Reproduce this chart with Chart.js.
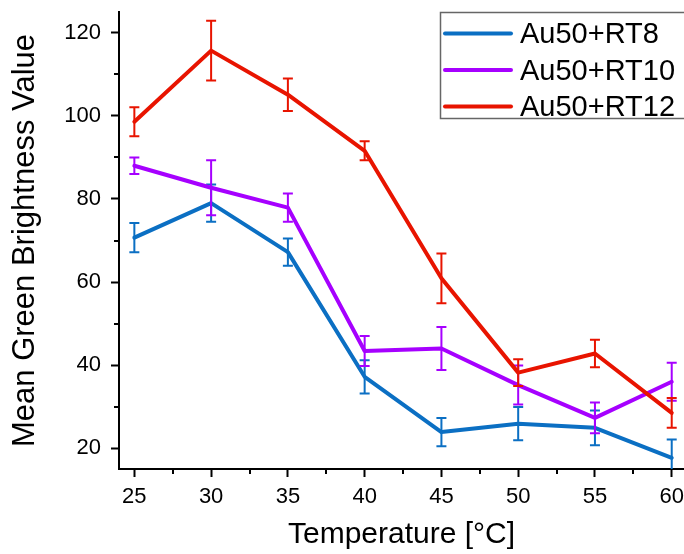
<!DOCTYPE html>
<html>
<head>
<meta charset="utf-8">
<script src="https://cdn.jsdelivr.net/npm/chart.js@4.4.1/dist/chart.umd.min.js"></script>
<style>
  html, body { margin: 0; padding: 0; background: #fff; overflow: hidden; }
  #wrap { width: 684px; height: 554px; position: relative; }
</style>
</head>
<body>
<div id="wrap"><canvas id="chart"></canvas></div>
<script>
// temperatures and mean green brightness (+/- error) per sample
var temps = [25, 30, 35, 40, 45, 50, 55, 60];
var rt8 = [70.7, 79.0, 67.2, 37.2, 23.9, 25.9, 24.9, 17.7];
var rt8Err = [3.5, 4.5, 3.3, 4.0, 3.4, 4.0, 4.2, 4.4];
var rt10 = [88.0, 82.7, 77.9, 43.4, 44.0, 35.2, 27.3, 36.0];
var rt10Err = [2.0, 6.6, 3.4, 3.6, 5.2, 4.7, 3.7, 4.6];
var rt12 = [98.6, 115.7, 105.1, 91.6, 60.9, 38.2, 42.8, 28.5];
var rt12Err = [3.5, 7.2, 3.9, 2.3, 6.0, 3.2, 3.3, 3.6];

var xTicks = [25, 30, 35, 40, 45, 50, 55, 60];
var xMinor = [27.5, 32.5, 37.5, 42.5, 47.5, 52.5, 57.5];
var yTicks = [20, 40, 60, 80, 100, 120];
var yMinor = [30, 50, 70, 90, 110];

var FONT = "'Liberation Sans', Arial, sans-serif";

function pts(ys) {
    return temps.map(function (t, i) { return { x: t, y: ys[i] }; });
}

function series(label, ys, errs, color, order) {
    return {
        label: label,
        data: pts(ys),
        errors: errs,
        borderColor: color,
        backgroundColor: color,
        borderWidth: 4,
        borderJoinStyle: 'round',
        borderCapStyle: 'round',
        pointRadius: 0,
        tension: 0,
        showLine: true,
        order: order
    };
}

// vertical error bars with caps, drawn right after each line
var errorBars = {
    id: 'errorBars',
    afterDatasetDraw: function (chart, args) {
        var ds = chart.data.datasets[args.index];
        var xs = chart.scales.x, ys = chart.scales.y, ctx = chart.ctx;
        var area = chart.chartArea;
        ctx.save();
        ctx.beginPath();
        ctx.rect(area.left, area.top - 10, area.right - area.left, area.bottom - area.top + 10);
        ctx.clip();
        ctx.strokeStyle = ds.borderColor;
        ctx.lineWidth = 2;
        ds.data.forEach(function (p, i) {
            var e = ds.errors[i];
            var px = xs.getPixelForValue(p.x);
            var top = ys.getPixelForValue(p.y + e);
            var bot = ys.getPixelForValue(p.y - e);
            ctx.beginPath();
            ctx.moveTo(px, top); ctx.lineTo(px, bot);
            ctx.moveTo(px - 5, top); ctx.lineTo(px + 5, top);
            ctx.moveTo(px - 5, bot); ctx.lineTo(px + 5, bot);
            ctx.stroke();
        });
        ctx.restore();
    }
};

// short outward minor ticks between the labelled ones
var minorTicks = {
    id: 'minorTicks',
    afterDraw: function (chart) {
        var ctx = chart.ctx, xs = chart.scales.x, ys = chart.scales.y;
        var area = chart.chartArea;
        ctx.save();
        ctx.strokeStyle = '#000';
        ctx.lineWidth = 2;
        ctx.beginPath();
        xMinor.forEach(function (v) {
            var px = Math.round(xs.getPixelForValue(v));
            ctx.moveTo(px, area.bottom); ctx.lineTo(px, area.bottom + 5);
        });
        yMinor.forEach(function (v) {
            var py = Math.round(ys.getPixelForValue(v));
            ctx.moveTo(area.left, py); ctx.lineTo(area.left - 5, py);
        });
        ctx.stroke();
        ctx.restore();
    }
};

// boxed legend in the top right corner
var boxLegend = {
    id: 'boxLegend',
    afterDraw: function (chart) {
        var ctx = chart.ctx;
        var left = 440, top = 12, rowH = 36.5;
        ctx.save();
        ctx.fillStyle = '#fff';
        ctx.fillRect(left, top, 260, 106);
        ctx.strokeStyle = '#666';
        ctx.lineWidth = 1.5;
        ctx.strokeRect(left + 0.5, top + 0.5, 260, 106);
        ctx.font = '29px ' + FONT;
        ctx.textBaseline = 'alphabetic';
        ctx.textAlign = 'left';
        chart.data.datasets.forEach(function (ds, i) {
            var cy = top + 21.5 + i * rowH;
            ctx.strokeStyle = ds.borderColor;
            ctx.lineWidth = 4;
            ctx.lineCap = 'round';
            ctx.beginPath();
            ctx.moveTo(left + 5, cy); ctx.lineTo(left + 71, cy);
            ctx.stroke();
            ctx.fillStyle = '#000';
            ctx.fillText(ds.label, left + 80, cy + 9.5);
        });
        ctx.restore();
    }
};

new Chart(document.getElementById('chart'), {
    type: 'scatter',
    data: {
        datasets: [
            series('Au50+RT8', rt8, rt8Err, '#0B6FC3', 2),
            series('Au50+RT10', rt10, rt10Err, '#A600FF', 1),
            series('Au50+RT12', rt12, rt12Err, '#E81400', 0)
        ]
    },
    options: {
        responsive: true,
        maintainAspectRatio: false,
        animation: false,
        layout: { padding: { top: 12, right: 0, left: 0, bottom: 0 } },
        plugins: {
            legend: { display: false },
            tooltip: { enabled: false }
        },
        scales: {
            x: {
                type: 'linear',
                min: 24,
                max: 60.8,
                afterBuildTicks: function (s) { s.ticks = xTicks.map(function (v) { return { value: v }; }); },
                afterFit: function (s) { s.height = 85; s.paddingLeft = 0; s.paddingRight = 0; },
                border: { display: true, color: '#000', width: 2 },
                grid: { drawOnChartArea: false, drawTicks: true, tickLength: 8, tickColor: '#000', tickWidth: 2 },
                ticks: { color: '#000', padding: 7, font: { family: FONT, size: 22 } },
                title: {
                    display: true,
                    text: 'Temperature [°C]',
                    color: '#000',
                    font: { family: FONT, size: 30 },
                    padding: { top: 0, bottom: 1 }
                }
            },
            y: {
                type: 'linear',
                min: 15,
                max: 125,
                afterBuildTicks: function (s) { s.ticks = yTicks.map(function (v) { return { value: v }; }); },
                afterFit: function (s) { s.width = 119; s.paddingTop = 0; s.paddingBottom = 0; },
                border: { display: true, color: '#000', width: 2 },
                grid: { drawOnChartArea: false, drawTicks: true, tickLength: 8, tickColor: '#000', tickWidth: 2 },
                ticks: { color: '#000', padding: 10, font: { family: FONT, size: 22 } },
                title: {
                    display: true,
                    text: 'Mean Green Brightness Value',
                    color: '#000',
                    font: { family: FONT, size: 31 },
                    padding: { top: 7, bottom: 0 }
                }
            }
        }
    },
    plugins: [errorBars, minorTicks, boxLegend]
});
</script>
</body>
</html>
